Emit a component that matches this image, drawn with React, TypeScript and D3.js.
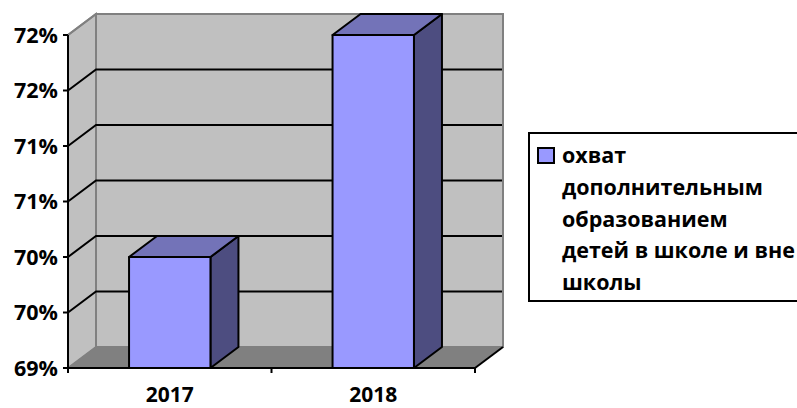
import React from 'react';
import * as d3 from 'd3';

const categories = ['2017', '2018'];
const coverage = [70, 72];
const tickValues = [69, 69.5, 70, 70.5, 71, 71.5, 72];
const legendLines = ['охват', 'дополнительным', 'образованием', 'детей в школе и вне', 'школы'];

const font = '"Open Sans", "Noto Sans", sans-serif';

const App: React.FC = () => {
  // front plane of the 3d box
  const x = d3.scaleBand<string>().domain(categories).range([68, 475]).paddingInner(0.6).paddingOuter(0.3);
  const band = d3.scaleBand<string>().domain(categories).range([68, 475]);
  const y = d3.scaleLinear().domain([69, 72]).range([368, 35]);
  const dx = 28;
  const dy = -21;
  const fmt = d3.format('.0%');
  const [x0, x1] = x.range();
  const y0 = y(69);
  const y1 = y(72);

  return (
    <svg width={797} height={408} style={{ position: 'absolute', left: 0, top: 0, background: '#fff' }} fontFamily={font}>
      {/* walls */}
      <polygon points={`${x0},${y0} ${x0 + dx},${y0 + dy} ${x0 + dx},${y1 + dy} ${x0},${y1}`} fill="#c0c0c0" stroke="#808080" strokeWidth={2} />
      <rect x={x0 + dx} y={y1 + dy} width={x1 - x0} height={y0 - y1} fill="#c0c0c0" stroke="#808080" strokeWidth={2} />
      <polygon points={`${x0},${y0} ${x0 + dx},${y0 + dy} ${x1 + dx},${y0 + dy} ${x1},${y0}`} fill="#808080" stroke="#808080" strokeWidth={1} />
      <line x1={x1} y1={y0} x2={x1 + dx} y2={y0 + dy} stroke="#000" strokeWidth={2} />

      {/* grid lines, first front tick has none */}
      {tickValues.slice(1).map(t => (
        <polyline key={t} points={`${x0},${y(t)} ${x0 + dx},${y(t) + dy} ${x1 + dx - 1},${y(t) + dy}`} fill="none" stroke={t === 72 ? 'none' : '#000'} strokeWidth={2} />
      ))}
      <line x1={x0} y1={y1} x2={x0 + dx} y2={y1 + dy} stroke="#808080" strokeWidth={2} />

      {/* axes */}
      <line x1={x0} y1={y1} x2={x0} y2={y0 + 5} stroke="#000" strokeWidth={2} />
      <line x1={x0 - 5} y1={y0} x2={x1} y2={y0} stroke="#000" strokeWidth={2} />
      {tickValues.map(t => (
        <g key={t}>
          <line x1={x0 - 5} y1={y(t)} x2={x0} y2={y(t)} stroke="#000" strokeWidth={2} />
          <text x={58} y={y(t)} dy="0.36em" textAnchor="end" fontSize={21.5} fontWeight={700} fill="#000">{fmt(t / 100)}</text>
        </g>
      ))}
      {[...categories.map(c => band(c) as number), x1].slice(1).map(v => (
        <line key={v} x1={v} y1={y0} x2={v} y2={y0 + 5} stroke="#000" strokeWidth={2} />
      ))}
      {categories.map(c => (
        <text key={c} x={(band(c) as number) + band.bandwidth() / 2} y={401.5} textAnchor="middle" fontSize={21} fontWeight={700} fill="#000">{c}</text>
      ))}

      {/* bars */}
      {categories.map((c, i) => {
        const l = x(c) as number;
        const r = l + x.bandwidth();
        const t = y(coverage[i]);
        return (
          <g key={c} stroke="#000" strokeWidth={2} strokeLinejoin="round">
            <polygon points={`${r},${t} ${r + dx},${t + dy} ${r + dx},${y0 + dy} ${r},${y0}`} fill="#4d4d80" />
            <polygon points={`${l},${t} ${l + dx},${t + dy} ${r + dx},${t + dy} ${r},${t}`} fill="#7373b8" />
            <rect x={l} y={t} width={r - l} height={y0 - t} fill="#9999ff" />
          </g>
        );
      })}

      {/* legend */}
      <rect x={529} y={133} width={280} height={168} fill="#fff" stroke="#000" strokeWidth={2} />
      <rect x={538} y={148} width={16} height={15} fill="#9999ff" stroke="#000" strokeWidth={2} />
      {legendLines.map((line, i) => (
        <text key={line} x={562} y={163 + i * 31.8} fontSize={21.5} fontWeight={700} fill="#000">{line}</text>
      ))}
    </svg>
  );
};

export default App;
